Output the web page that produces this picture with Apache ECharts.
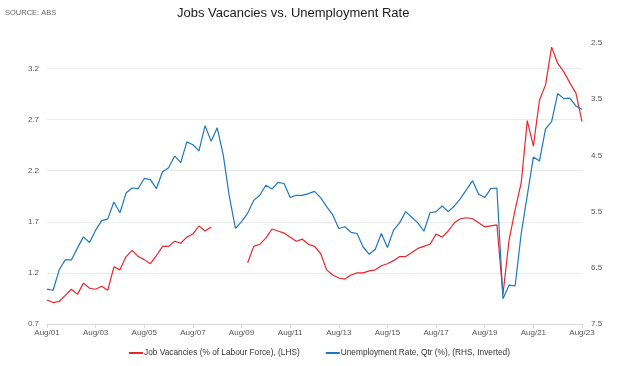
<!DOCTYPE html>
<html>
<head>
<meta charset="utf-8">
<script src="https://cdn.jsdelivr.net/npm/echarts@6/dist/echarts.min.js"></script>
<style>
html,body{margin:0;padding:0;background:#fff;}
#chart{width:639px;height:366px;}
</style>
</head>
<body>
<div id="chart"></div>
<script>
var categories = [
'Aug/01','Nov/01','Feb/02','May/02','Aug/02','Nov/02','Feb/03','May/03',
'Aug/03','Nov/03','Feb/04','May/04','Aug/04','Nov/04','Feb/05','May/05',
'Aug/05','Nov/05','Feb/06','May/06','Aug/06','Nov/06','Feb/07','May/07',
'Aug/07','Nov/07','Feb/08','May/08','Aug/08','Nov/08','Feb/09','May/09',
'Aug/09','Nov/09','Feb/10','May/10','Aug/10','Nov/10','Feb/11','May/11',
'Aug/11','Nov/11','Feb/12','May/12','Aug/12','Nov/12','Feb/13','May/13',
'Aug/13','Nov/13','Feb/14','May/14','Aug/14','Nov/14','Feb/15','May/15',
'Aug/15','Nov/15','Feb/16','May/16','Aug/16','Nov/16','Feb/17','May/17',
'Aug/17','Nov/17','Feb/18','May/18','Aug/18','Nov/18','Feb/19','May/19',
'Aug/19','Nov/19','Feb/20','May/20','Aug/20','Nov/20','Feb/21','May/21',
'Aug/21','Nov/21','Feb/22','May/22','Aug/22','Nov/22','Feb/23','May/23',
'Aug/23'
];

var jobVacancies = [
0.935,0.91,0.92,0.98,1.04,0.99,1.10,1.05,
1.04,1.07,1.03,1.26,1.23,1.36,1.42,1.36,
1.33,1.29,1.37,1.46,1.46,1.51,1.49,1.55,
1.58,1.66,1.61,1.65,null,null,null,null,
null,1.30,1.46,1.48,1.54,1.63,1.61,1.59,
1.55,1.51,1.53,1.48,1.46,1.39,1.23,1.18,
1.15,1.14,1.18,1.20,1.20,1.22,1.23,1.27,
1.29,1.32,1.36,1.36,1.40,1.44,1.46,1.48,
1.58,1.55,1.61,1.69,1.73,1.74,1.73,1.69,
1.65,1.66,1.67,0.99,1.52,1.82,2.08,2.69,
2.44,2.89,3.04,3.41,3.25,3.17,3.06,2.96,
2.68
];

var unemploymentRate = [
6.88,6.90,6.54,6.36,6.36,6.15,5.95,6.05,
5.83,5.66,5.63,5.33,5.52,5.17,5.08,5.09,
4.91,4.93,5.09,4.79,4.72,4.51,4.63,4.26,
4.31,4.42,3.97,4.25,4.01,4.50,5.24,5.80,
5.68,5.53,5.30,5.21,5.03,5.10,4.98,5.00,
5.25,5.21,5.21,5.18,5.14,5.25,5.41,5.56,
5.80,5.77,5.87,5.89,6.13,6.26,6.17,5.89,
6.14,5.83,5.70,5.50,5.60,5.70,5.85,5.52,
5.50,5.40,5.50,5.40,5.27,5.11,4.95,5.19,
5.25,5.09,5.08,7.05,6.81,6.82,5.89,5.21,
4.53,4.60,4.03,3.90,3.40,3.49,3.48,3.62,
3.68
];

var leftAxis = {min: 0.7, max: 3.45, interval: 0.5};
var rightAxis = {min: 2.5, max: 7.5, interval: 1};

var seriesNames = ['Job Vacancies (% of Labour Force), (LHS)', 'Unemployment Rate, Qtr (%), (RHS, Inverted)'];
var RED = '#e8262d', BLUE = '#1f77bd';
var FONT = 'Liberation Sans, Arial, sans-serif';
var LABEL_COLOR = '#555555';

var chart = echarts.init(document.getElementById('chart'), null, {renderer: 'canvas'});
chart.setOption({
  animation: false,
  backgroundColor: '#ffffff',
  textStyle: {fontFamily: FONT},
  title: [
    {text: 'Jobs Vacancies vs. Unemployment Rate', left: 172, top: 2,
     textStyle: {fontFamily: FONT, fontSize: 13, fontWeight: 'normal', color: '#1a1a1a'}},
    {text: 'SOURCE: ABS', left: 0, top: 4,
     textStyle: {fontFamily: FONT, fontSize: 7.5, fontWeight: 'normal', color: '#666666'}}
  ],
  grid: {left: 47, right: 57, top: 43, height: 281, containLabel: false},
  legend: {
    bottom: 4, left: 'center', itemGap: 26, itemWidth: 14, itemHeight: 2,
    icon: 'rect',
    textStyle: {fontFamily: FONT, fontSize: 8.3, color: '#333333', padding: [0,0,0,-4]},
    data: seriesNames
  },
  xAxis: {
    type: 'category', data: categories, boundaryGap: false,
    axisLine: {show: true, lineStyle: {color: '#d9d9d9', width: 1}},
    axisTick: {show: true, interval: 7, length: 4, lineStyle: {color: '#d9d9d9'}},
    axisLabel: {interval: 7, fontSize: 8, color: LABEL_COLOR, margin: 5, fontFamily: FONT},
    splitLine: {show: false}
  },
  yAxis: [
    {type: 'value', position: 'left', min: leftAxis.min, max: leftAxis.max, interval: leftAxis.interval,
     axisLine: {show: false}, axisTick: {show: false},
     axisLabel: {fontSize: 8, color: LABEL_COLOR, margin: 8, showMaxLabel: false, fontFamily: FONT,
       formatter: function(v){ return v.toFixed(1); }},
     splitLine: {show: true, showMaxLine: false, lineStyle: {color: '#ebebeb', width: 1}}
    },
    {type: 'value', position: 'right', inverse: true, min: rightAxis.min, max: rightAxis.max, interval: rightAxis.interval,
     axisLine: {show: false}, axisTick: {show: false},
     axisLabel: {fontSize: 8, color: LABEL_COLOR, margin: 9, fontFamily: FONT,
       formatter: function(v){ return v.toFixed(1); }},
     splitLine: {show: false}
    }
  ],
  series: [
    {name: seriesNames[0], type: 'line', yAxisIndex: 0, data: jobVacancies,
     showSymbol: false, symbol: 'none', connectNulls: false,
     lineStyle: {color: RED, width: 1.2}, itemStyle: {color: RED}},
    {name: seriesNames[1], type: 'line', yAxisIndex: 1, data: unemploymentRate,
     showSymbol: false, symbol: 'none',
     lineStyle: {color: BLUE, width: 1.2}, itemStyle: {color: BLUE}}
  ]
});
</script>
</body>
</html>
